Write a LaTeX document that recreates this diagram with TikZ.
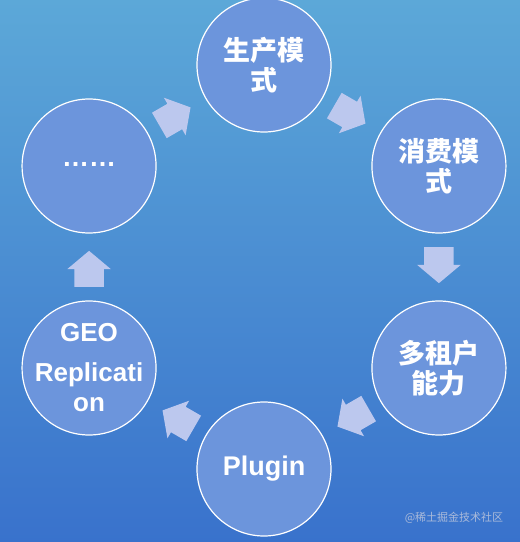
\documentclass[tikz,border=0pt]{standalone}
\usepackage{fontspec}
\setmainfont{Liberation Sans}
\newfontfamily\cjk{Noto Sans CJK SC}
\usetikzlibrary{shapes.arrows}
\usetikzlibrary{calc}
\definecolor{bgtop}{RGB}{92,168,216}
\definecolor{bgbot}{RGB}{57,114,204}
\definecolor{disc}{RGB}{108,149,220}
\definecolor{flow}{RGB}{188,200,238}
\definecolor{mark}{RGB}{170,186,218}

\begin{document}
\begin{tikzpicture}[x=1pt,y=1pt,
    stage/.style={circle, draw=white, line width=1.2pt, fill=disc,
        minimum size=134pt, inner sep=-12pt, align=center, text=white,
        font=\bfseries\fontsize{27}{30}\selectfont},
    zhstage/.style={stage, font=\cjk\bfseries\fontsize{27}{30}\selectfont},
    flowarrow/.style={single arrow, fill=flow, draw=none,
        inner xsep=0pt, inner ysep=14.5pt, minimum height=36pt,
        single arrow head extend=7pt, single arrow tip angle=100,
        single arrow head indent=0pt}]

\def\R{202}    % ring radius
\def\back{8}   % pull arrows back onto the midpoint

% Background
\shade[top color=bgtop, bottom color=bgbot] (-264,267) rectangle (256,-275);
\useasboundingbox (-264,267) rectangle (256,-275);

% Stages on the ring
\node[zhstage] (prod)   at (90:\R)   {生产模\\式};
\node[zhstage] (cons)   at (30:\R)   {消费模\\式};
\node[zhstage] (tenant) at (-30:\R)  {多租户\\能力};
\node[stage]   (plugin) at (-90:\R)  {Plugin};
\node[stage, font=\bfseries\fontsize{26}{30}\selectfont]
               (geo)    at (-150:\R) {GEO\\[10pt]Replicati\\on};
\node[stage]   (more)   at (150:\R)  {\raisebox{3pt}{……}};

% Block arrows between neighbours
\foreach \a/\b/\ang in {more/prod/30, prod/cons/-30, cons/tenant/-90,
                        tenant/plugin/-150, plugin/geo/150, geo/more/90}
    \node[flowarrow, rotate=\ang] (\a-\b)
        at ($(\a)!0.5!(\b) + ({\ang+180}:\back)$) {};

% Watermark
\node[font=\cjk\fontsize{11}{11}\selectfont, text=mark] (wm) at (190,-251) {@稀土掘金技术社区};

\end{tikzpicture}
\end{document}
